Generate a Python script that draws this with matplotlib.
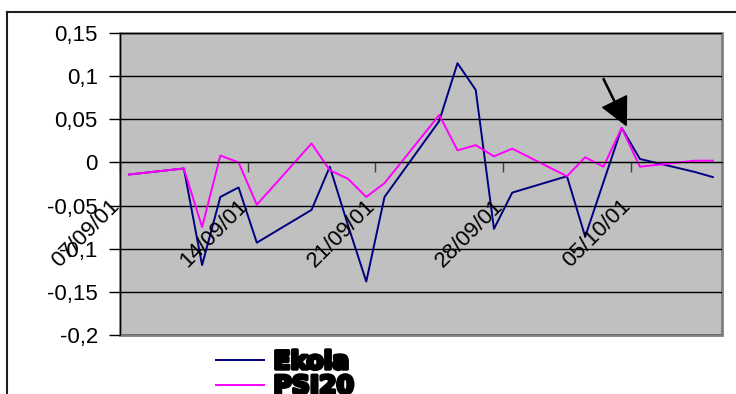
import matplotlib
matplotlib.use("Agg")
import matplotlib.pyplot as plt
import matplotlib.dates as mdates
import matplotlib.patheffects as pe
from matplotlib.lines import Line2D
import pandas as pd

# daily returns, trading days only
dates = ["2001-09-07", "2001-09-10", "2001-09-11", "2001-09-12", "2001-09-13",
         "2001-09-14", "2001-09-17", "2001-09-18", "2001-09-19", "2001-09-20",
         "2001-09-21", "2001-09-24", "2001-09-25", "2001-09-26", "2001-09-27",
         "2001-09-28", "2001-10-01", "2001-10-02", "2001-10-03", "2001-10-04",
         "2001-10-05", "2001-10-08", "2001-10-09"]
ekola = [-0.014, -0.007, -0.119, -0.040, -0.029, -0.093, -0.055, -0.005,
         -0.073, -0.138, -0.040, 0.048, 0.115, 0.084, -0.077, -0.035,
         -0.016, -0.086, -0.023, 0.040, 0.004, -0.011, -0.017]
psi20 = [-0.014, -0.007, -0.075, 0.008, 0.000, -0.049, 0.022, -0.009,
         -0.019, -0.040, -0.024, 0.055, 0.014, 0.020, 0.007, 0.016,
         -0.016, 0.006, -0.005, 0.040, -0.005, 0.002, 0.002]
names = ["Ekola", "PSI20"]

week_labels = ["07/09/01", "14/09/01", "21/09/01", "28/09/01", "05/10/01"]
week_dates = ["2001-09-07", "2001-09-14", "2001-09-21", "2001-09-28", "2001-10-05"]
yticks = [0.15, 0.1, 0.05, 0, -0.05, -0.1, -0.15, -0.2]
ylabels = ["0,15", "0,1", "0,05", "0", "-0,05", "-0,1", "-0,15", "-0,2"]

x = pd.to_datetime(dates)
half = pd.Timedelta(hours=12)
wk = pd.to_datetime(week_dates) - half

plt.rcParams['font.family'] = ['Liberation Sans', 'DejaVu Sans']

W, H = 736, 394
fig = plt.figure(figsize=(W / 100, H / 100), dpi=100)
ax = fig.add_axes([120 / W, (H - 335) / H, 602 / W, 302 / H])

ax.set_facecolor("#c0c0c0")
ax.patch.set_edgecolor("#808080")
ax.patch.set_linewidth(2)

l1, = ax.plot(x, ekola, color="#000080", lw=1.4)
l2, = ax.plot(x, psi20, color="#ff00ff", lw=1.4)

ax.set_xlim(x[0] - half, x[-1] + half)
ax.set_ylim(-0.2, 0.15)

ax.set_yticks(yticks)
ax.set_yticklabels(ylabels, fontsize=16)
ax.yaxis.grid(True, color="black", lw=1)
ax.set_axisbelow(True)
ax.tick_params(axis="y", direction="out", length=8, width=1, pad=8)

# category axis crosses at zero
ax.spines["bottom"].set_position(("data", 0))
ax.spines["bottom"].set_color("black")
ax.spines["left"].set_color("black")
ax.spines["top"].set_visible(False)
ax.spines["right"].set_visible(False)
ax.set_xticks(wk)
ax.set_xticklabels([])
ax.tick_params(axis="x", direction="out", length=7, width=1, color="#404040")

for d, lab in zip(wk, week_labels):
    ax.annotate(lab, xy=(mdates.date2num(d), 0), xytext=(3, -24),
                textcoords="offset points", ha="right", va="top",
                rotation=45, fontsize=16)

# arrow pointing at the 04/10 peak
ax.annotate("", xy=(mdates.date2num(pd.Timestamp("2001-10-04 06:00")), 0.043),
            xytext=(mdates.date2num(pd.Timestamp("2001-10-03")), 0.097),
            arrowprops=dict(facecolor="black", edgecolor="black", width=0.8,
                            headwidth=19, headlength=19, shrink=0))

leg = ax.legend([l1, l2], names, loc="upper left",
                bbox_to_anchor=(216 / W, 1 - 350 / H),
                bbox_transform=fig.transFigure, frameon=False,
                borderpad=0, borderaxespad=0, handlelength=1.9,
                handletextpad=0.4, labelspacing=0.02,
                prop=dict(family="DejaVu Sans", weight="bold", size=18))
for t in leg.get_texts():
    t.set_path_effects([pe.withStroke(linewidth=2.5, foreground="black")])

# chart area border
fig.add_artist(Line2D([7 / W, 7 / W], [0, 1 - 12 / H], color="#202020", lw=1.5))
fig.add_artist(Line2D([7 / W, 1], [1 - 12 / H, 1 - 12 / H], color="#202020", lw=1.5))

fig.savefig("out.png", dpi=100)
